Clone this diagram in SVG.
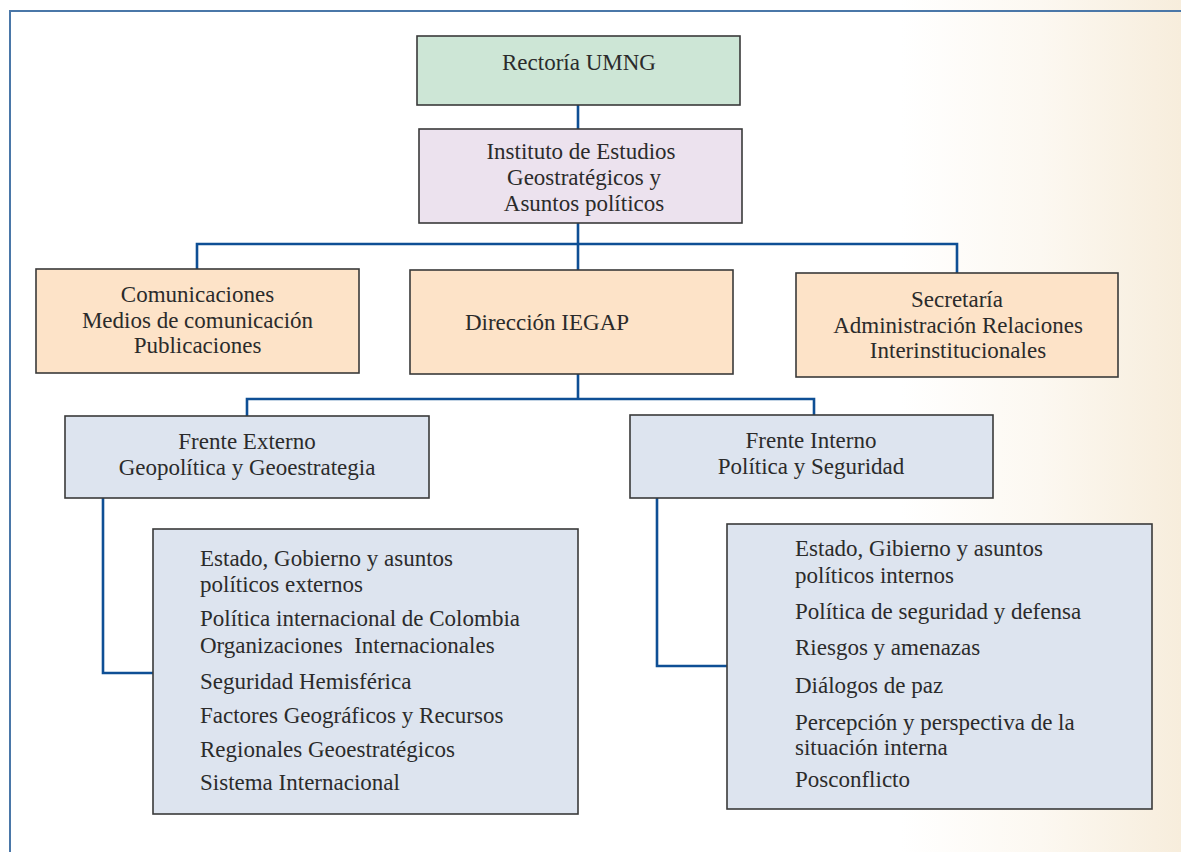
<svg xmlns="http://www.w3.org/2000/svg" width="1181" height="852" viewBox="0 0 1181 852">
  <defs>
    <linearGradient id="bgGrad" x1="900" y1="0" x2="1181" y2="0" gradientUnits="userSpaceOnUse">
      <stop offset="0" stop-color="#ffffff"/>
      <stop offset="0.5" stop-color="#fcf8f1"/>
      <stop offset="1" stop-color="#f7eddc"/>
    </linearGradient>
    <style>
      .box { stroke: #3a3a3a; stroke-width: 1.6; }
      .green { fill: #cde6d6; }
      .lav { fill: #ece2ee; }
      .peach { fill: #fde3c8; }
      .blue { fill: #dde4ef; }
      .t { font-family: "Liberation Serif", "Times New Roman", serif; font-size: 23px; fill: #2b2b2b; }
      .c { text-anchor: middle; }
      .conn { fill: none; stroke: #0e4f95; stroke-width: 2.6; stroke-linejoin: miter; }
      .frame { fill: none; stroke: #4a77a8; stroke-width: 2; }
    </style>
  </defs>

  <rect x="0" y="0" width="1181" height="852" fill="url(#bgGrad)"/>
  <path class="frame" d="M10 852 V11 H1181"/>

  <g id="connectors">
    <path class="conn" d="M578 105 V129"/>
    <path class="conn" d="M578 223 V270"/>
    <path class="conn" d="M197 269 V244 H957 V273"/>
    <path class="conn" d="M578 374 V399"/>
    <path class="conn" d="M247 416 V399 H814 V415"/>
    <path class="conn" d="M103 498 V673 H153"/>
    <path class="conn" d="M657 498 V666 H727"/>
  </g>

  <g id="rectoria">
    <rect class="box green" x="417" y="36" width="323" height="69"/>
    <text class="t c" x="579" y="70">Rectoría UMNG</text>
  </g>

  <g id="instituto">
    <rect class="box lav" x="419" y="129" width="323" height="94"/>
    <text class="t c" x="581" y="159">Instituto de Estudios</text>
    <text class="t c" x="584" y="185">Geostratégicos y</text>
    <text class="t c" x="584" y="211">Asuntos políticos</text>
  </g>

  <g id="comunicaciones">
    <rect class="box peach" x="36" y="269" width="323" height="104"/>
    <text class="t c" x="197.5" y="302">Comunicaciones</text>
    <text class="t c" x="197.5" y="328">Medios de comunicación</text>
    <text class="t c" x="197.5" y="353">Publicaciones</text>
  </g>

  <g id="direccion">
    <rect class="box peach" x="410" y="270" width="323" height="104"/>
    <text class="t c" x="547" y="330">Dirección IEGAP</text>
  </g>

  <g id="secretaria">
    <rect class="box peach" x="796" y="273" width="322" height="104"/>
    <text class="t c" x="957" y="307">Secretaría</text>
    <text class="t c" x="958" y="333">Administración Relaciones</text>
    <text class="t c" x="958" y="358">Interinstitucionales</text>
  </g>

  <g id="frente-externo">
    <rect class="box blue" x="65" y="416" width="364" height="82"/>
    <text class="t c" x="247" y="449">Frente Externo</text>
    <text class="t c" x="247" y="475">Geopolítica y Geoestrategia</text>
  </g>

  <g id="frente-interno">
    <rect class="box blue" x="630" y="415" width="363" height="83"/>
    <text class="t c" x="811" y="448">Frente Interno</text>
    <text class="t c" x="811" y="474">Política y Seguridad</text>
  </g>

  <g id="lista-externo">
    <rect class="box blue" x="153" y="529" width="425" height="285"/>
    <text class="t" x="200" y="566">Estado, Gobierno y asuntos</text>
    <text class="t" x="200" y="592">políticos externos</text>
    <text class="t" x="200" y="626">Política internacional de Colombia</text>
    <text class="t" x="200" y="653" xml:space="preserve">Organizaciones  Internacionales</text>
    <text class="t" x="200" y="689">Seguridad Hemisférica</text>
    <text class="t" x="200" y="723">Factores Geográficos y Recursos</text>
    <text class="t" x="200" y="757">Regionales Geoestratégicos</text>
    <text class="t" x="200" y="790">Sistema Internacional</text>
  </g>

  <g id="lista-interno">
    <rect class="box blue" x="727" y="524" width="425" height="285"/>
    <text class="t" x="795" y="556">Estado, Gibierno y asuntos</text>
    <text class="t" x="795" y="583">políticos internos</text>
    <text class="t" x="795" y="619">Política de seguridad y defensa</text>
    <text class="t" x="795" y="655">Riesgos y amenazas</text>
    <text class="t" x="795" y="693">Diálogos de paz</text>
    <text class="t" x="795" y="730">Percepción y perspectiva de la</text>
    <text class="t" x="795" y="755">situación interna</text>
    <text class="t" x="795" y="787">Posconflicto</text>
  </g>
</svg>
